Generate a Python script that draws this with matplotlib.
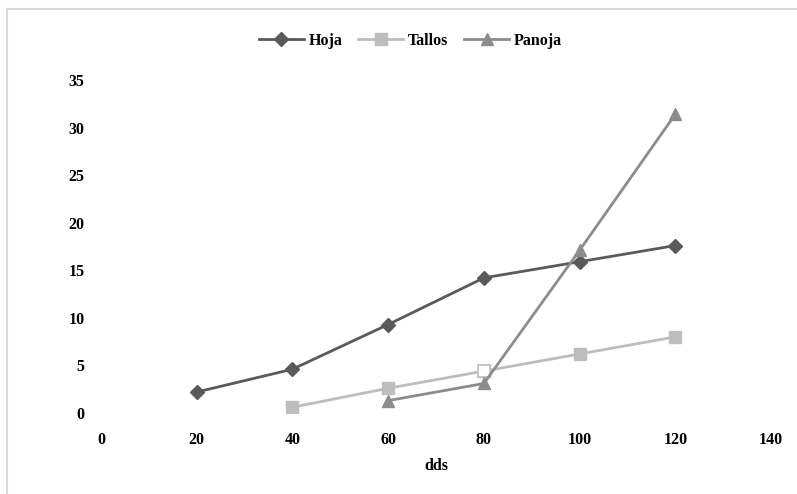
import matplotlib
matplotlib.use("Agg")
import matplotlib.pyplot as plt
from matplotlib.lines import Line2D

plt.rcParams["font.family"] = ["Liberation Serif", "DejaVu Serif"]
plt.rcParams["font.weight"] = "bold"

# data
dds_hoja = [20, 40, 60, 80, 100, 120]
hoja = [2.2, 4.6, 9.3, 14.2, 15.9, 17.6]
dds_tallos = [40, 60, 80, 100, 120]
tallos = [0.6, 2.6, 4.4, 6.2, 8.0]
dds_panoja = [60, 80, 100, 120]
panoja = [1.3, 3.1, 17.1, 31.4]

c_hoja = "#5a5a5a"
c_tallos = "#bdbdbd"
c_panoja = "#8c8c8c"

fig = plt.figure(figsize=(7.97, 4.94), dpi=100)
ax = fig.add_axes([0.1267, 0.164, 0.8407, 0.674])

ax.plot(dds_hoja, hoja, color=c_hoja, lw=2, marker="D", ms=7, label="Hoja")
ax.plot(dds_tallos, tallos, color=c_tallos, lw=2, marker="s", ms=9, label="Tallos")
# hollow square at 80 dds as in the original
ax.plot([dds_tallos[2]], [tallos[2]], ls="none", marker="s", ms=9,
        mfc="white", mec=c_tallos, mew=1.2)
ax.plot(dds_panoja, panoja, color=c_panoja, lw=2, marker="^", ms=9, label="Panoja")

ax.set_xlim(0, 140)
ax.set_ylim(0, 35)
ax.set_xticks(range(0, 141, 20))
ax.set_yticks(range(0, 36, 5))
for s in ax.spines.values():
    s.set_visible(False)
ax.tick_params(length=0, labelsize=11.5)
ax.tick_params(axis="x", pad=14)
ax.tick_params(axis="y", pad=12)
ax.set_xlabel("dds", fontsize=11.5, fontweight="bold", labelpad=7)

handles = [
    Line2D([], [], color=c_hoja, lw=2, marker="D", ms=7),
    Line2D([], [], color=c_tallos, lw=2, marker="s", ms=9),
    Line2D([], [], color=c_panoja, lw=2, marker="^", ms=9),
]
fig.legend(handles, ["Hoja", "Tallos", "Panoja"], loc="center",
           bbox_to_anchor=(0.515, 0.918), ncol=3, frameon=False,
           fontsize=11.5, handlelength=2.8, columnspacing=1.0, handletextpad=0.3)

# light frame at left/top edges of the picture
fig.add_artist(Line2D([0.009, 0.009], [0, 0.982], color="#d9d9d9", lw=1.5,
                      transform=fig.transFigure))
fig.add_artist(Line2D([0.009, 1], [0.982, 0.982], color="#d9d9d9", lw=1.5,
                      transform=fig.transFigure))

fig.savefig("out.png", dpi=100)
